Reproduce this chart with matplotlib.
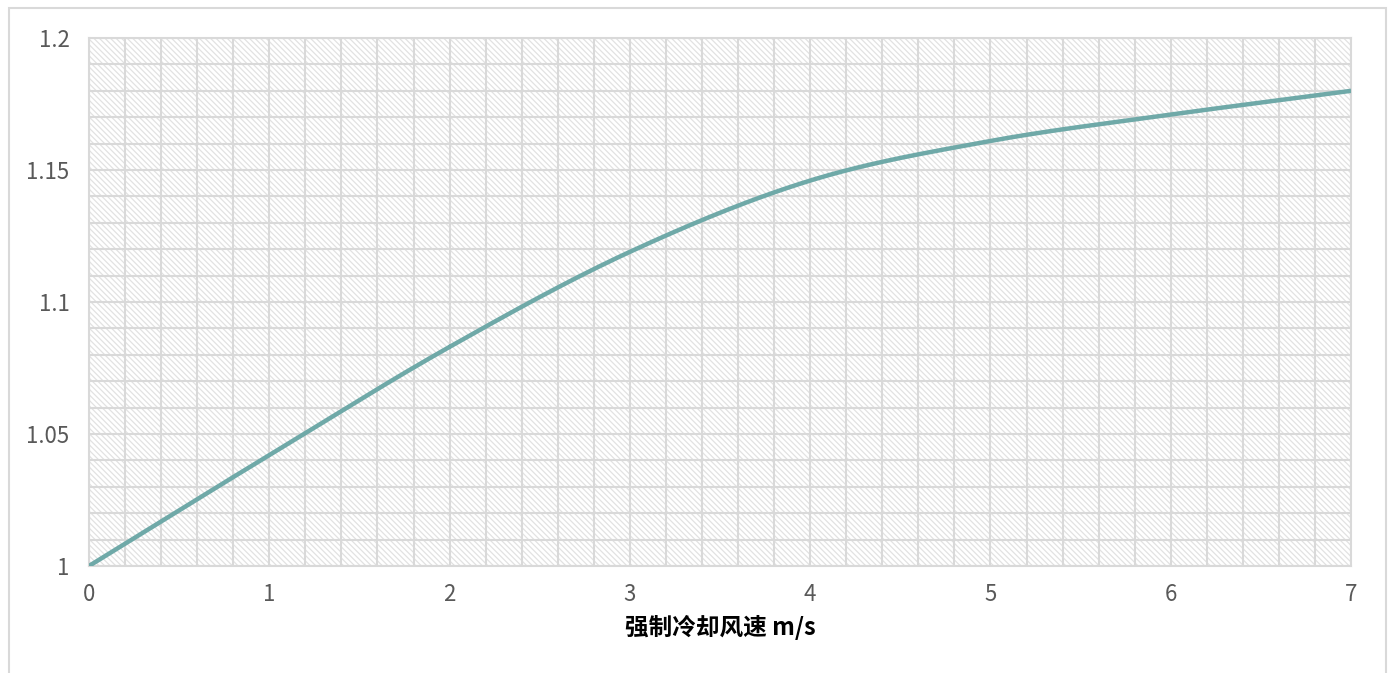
import numpy as np
import matplotlib.pyplot as plt
from matplotlib.patches import Rectangle
from matplotlib.ticker import MultipleLocator

# wind speed (m/s) and the coefficient
speed = [0, 1, 2, 3, 4, 5, 6, 7]
coef = [1.000, 1.042, 1.083, 1.119, 1.146, 1.161, 1.171, 1.180]

x_label = '强制冷却风速 m/s'
x_ticks = [0, 1, 2, 3, 4, 5, 6, 7]
y_ticks = [1, 1.05, 1.1, 1.15, 1.2]
y_tick_labels = ['1', '1.05', '1.1', '1.15', '1.2']

plt.rcParams['font.family'] = ['Noto Sans CJK SC', 'DejaVu Sans']
plt.rcParams['hatch.linewidth'] = 0.9

grid_col = '#d9d9d9'
hatch_col = '#e2e2e2'
line_col = '#6fa9a8'


# smooth line like the spreadsheet one (Catmull-Rom through the points)
def smooth(xs, ys, n=40):
    xs = np.asarray(xs, float)
    ys = np.asarray(ys, float)
    px = np.concatenate([[2 * xs[0] - xs[1]], xs, [2 * xs[-1] - xs[-2]]])
    py = np.concatenate([[2 * ys[0] - ys[1]], ys, [2 * ys[-1] - ys[-2]]])
    outx, outy = [], []
    t = np.linspace(0, 1, n)
    for i in range(1, len(px) - 2):
        for p, out in ((px, outx), (py, outy)):
            p0, p1, p2, p3 = p[i - 1], p[i], p[i + 1], p[i + 2]
            out.extend(0.5 * (2 * p1 + (-p0 + p2) * t
                              + (2 * p0 - 5 * p1 + 4 * p2 - p3) * t ** 2
                              + (-p0 + 3 * p1 - 3 * p2 + p3) * t ** 3))
    return outx, outy


fig = plt.figure(figsize=(13.9, 6.73), dpi=100)
ax = fig.add_axes([0.064, 0.159, 0.908, 0.7845])

# hatched plot area
ax.add_patch(Rectangle((0, 0), 1, 1, transform=ax.transAxes, facecolor='white',
                       edgecolor=hatch_col, hatch='\\' * 6, linewidth=0, zorder=0.1))

sx, sy = smooth(speed, coef)
ax.plot(sx, sy, color=line_col, linewidth=3.2, solid_capstyle='butt', zorder=3)

ax.set_xlim(0, 7)
ax.set_ylim(1, 1.2)
ax.set_xticks(x_ticks)
ax.set_yticks(y_ticks)
ax.set_yticklabels(y_tick_labels)
ax.xaxis.set_minor_locator(MultipleLocator(0.2))
ax.yaxis.set_minor_locator(MultipleLocator(0.01))
ax.set_axisbelow(True)
ax.grid(which='both', color=grid_col, linewidth=1.5)

for s in ax.spines.values():
    s.set_color(grid_col)
    s.set_linewidth(1.5)

ax.tick_params(which='both', length=0)
ax.tick_params(axis='x', pad=12, labelsize=16, labelcolor='#595959')
ax.tick_params(axis='y', pad=14, labelsize=16, labelcolor='#595959')
for lab in ax.get_xticklabels() + ax.get_yticklabels():
    lab.set_fontweight('light')

ax.set_xlabel(x_label, fontsize=17, fontweight='bold', color='black', labelpad=7)

# light frame around the chart
fig.patches.append(Rectangle((0.0065, -0.02), 0.9905, 1.008, transform=fig.transFigure,
                             fill=False, edgecolor=grid_col, linewidth=1.5))

fig.savefig('out.png', dpi=100)
